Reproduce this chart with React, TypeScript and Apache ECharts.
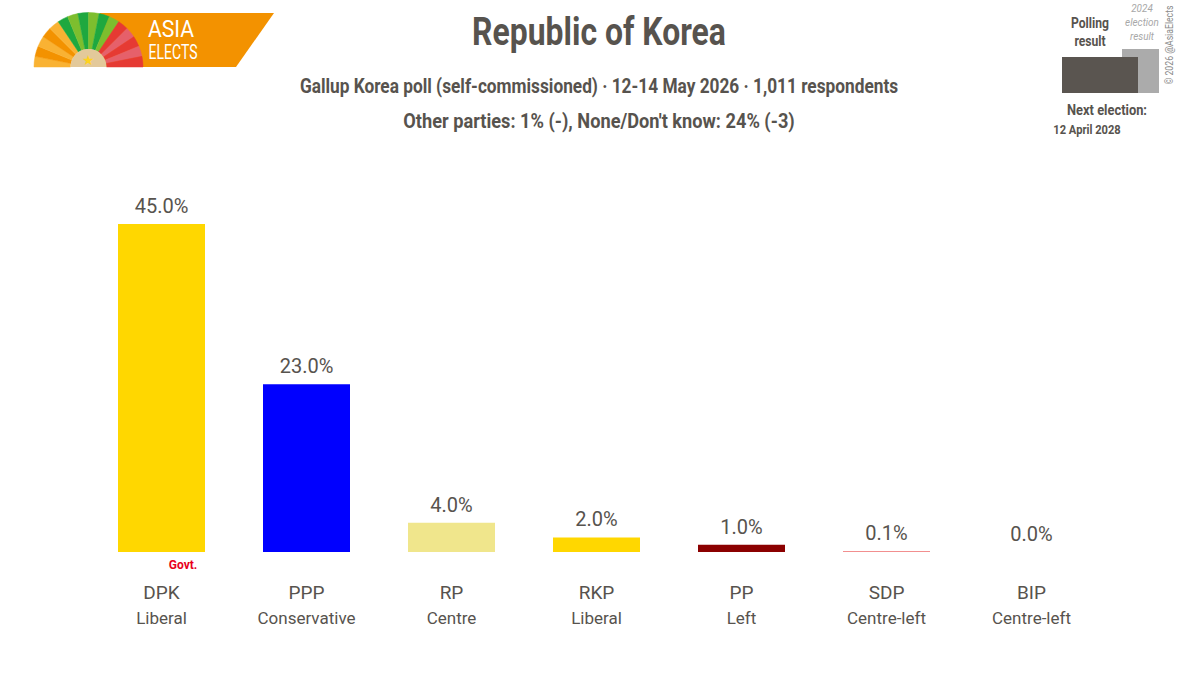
import * as echarts from "echarts";
import { useEffect, useRef } from "react";

const parties = ["DPK", "PPP", "RP", "RKP", "PP", "SDP", "BIP"];
const leanings = ["Liberal", "Conservative", "Centre", "Liberal", "Left", "Centre-left", "Centre-left"];
const values = [45.0, 23.0, 4.0, 2.0, 1.0, 0.1, 0.0];
const barColors = ["#FFD700", "#0000FF", "#F0E68C", "#FFD700", "#8B0000", "#EE6A6A", "#008080"];
const wedgeColors = [
  "#F9B233", "#F39200", "#F9B233", "#F39200", "#F9B233",
  "#1EA83F", "#7DBE2E", "#1EA83F", "#7DBE2E", "#1EA83F", "#7DBE2E",
  "#E63A33", "#E6606A", "#E63A33", "#E6606A", "#E63A33",
];

const FONT = "Roboto, sans-serif";
const INK = "#57534E";

// the reference font is a condensed one, so texts are squeezed sideways
function label(text: string, x: number, y: number, font: string, scaleX = 1, fill = INK) {
  return { type: "text", x, y, scaleX, style: { text, font, fill, align: "center", verticalAlign: "middle" } };
}

function logo() {
  const cx = 88.5;
  const cy = 67;
  const step = Math.PI / wedgeColors.length;
  const wedges = wedgeColors.map((color, i) => ({
    type: "sector",
    shape: { cx, cy, r: 54.5, r0: 18, startAngle: Math.PI + i * step, endAngle: Math.PI + (i + 1) * step },
    style: { fill: color, stroke: color, lineWidth: 0.5 },
  }));
  return [
    {
      type: "polygon",
      shape: { points: [[100, 13], [274, 13], [236, 67], [100, 67]] },
      style: { fill: "#F39200" },
    },
    ...wedges,
    {
      type: "sector",
      shape: { cx, cy, r: 18, r0: 0, startAngle: Math.PI, endAngle: 2 * Math.PI },
      style: { fill: "#E3C99A" },
    },
    label("★", 88.5, 60, "14px sans-serif", 1, "#FFD21F"),
    label("ASIA", 171, 29, `24px ${FONT}`, 0.88, "#fff"),
    label("ELECTS", 173, 52, `20px ${FONT}`, 0.7, "#fff"),
  ];
}

function header() {
  return [
    label("Republic of Korea", 599, 32, `bold 38px ${FONT}`, 0.84),
    label("Gallup Korea poll (self-commissioned) · 12-14 May 2026 · 1,011 respondents", 599, 87, `bold 20px ${FONT}`, 0.864),
    label("Other parties: 1% (-), None/Don't know: 24% (-3)", 599, 121, `bold 20px ${FONT}`, 0.91),
  ];
}

function legendBox() {
  return [
    { type: "rect", shape: { x: 1122, y: 49, width: 37, height: 44 }, style: { fill: "#ABABAB" } },
    { type: "rect", shape: { x: 1062, y: 57, width: 76, height: 36 }, style: { fill: "#5A5550" } },
    label("Polling", 1090, 23, `bold 15px ${FONT}`, 0.81),
    label("result", 1090, 41, `bold 15px ${FONT}`, 0.81),
    label("2024", 1142, 8, `italic 11px ${FONT}`, 0.9, "#A8A8A8"),
    label("election", 1142, 22, `italic 11px ${FONT}`, 0.9, "#A8A8A8"),
    label("result", 1142, 36, `italic 11px ${FONT}`, 0.9, "#A8A8A8"),
    label("Next election:", 1107, 110, `bold 14px ${FONT}`, 0.92),
    label("12 April 2028", 1087, 130, `bold 12px ${FONT}`, 0.93),
    {
      type: "text",
      x: 1169,
      y: 45,
      rotation: Math.PI / 2,
      scaleX: 0.87,
      style: { text: "© 2026 @AsiaElects", font: `10px ${FONT}`, fill: "#8A8A8A", align: "center", verticalAlign: "middle" },
    },
    label("Govt.", 183, 565, `bold 12px ${FONT}`, 1, "#E8001C"),
  ];
}

export default function App() {
  const ref = useRef<HTMLDivElement | null>(null);

  useEffect(() => {
    if (!ref.current) return;

    const chart = echarts.init(ref.current, undefined, { renderer: "svg" });

    chart.setOption({
      animation: false,
      backgroundColor: "#ffffff",
      grid: { left: 89, right: 96, top: 224, bottom: 139 },
      xAxis: {
        type: "category",
        data: parties,
        axisLine: { show: false },
        axisTick: { show: false },
        axisLabel: {
          interval: 0,
          margin: 28,
          formatter: (_: string, i: number) => `{a|${parties[i]}}\n{b|${leanings[i]}}`,
          rich: {
            a: { fontFamily: FONT, fontSize: 19, color: INK, lineHeight: 25, align: "center" },
            b: { fontFamily: FONT, fontSize: 17, color: INK, lineHeight: 25, align: "center" },
          },
        },
      },
      yAxis: { type: "value", min: 0, max: 45, show: false },
      series: [
        {
          type: "bar",
          barWidth: 87,
          data: values.map((v, i) => ({ value: v, itemStyle: { color: barColors[i] } })),
          label: {
            show: true,
            position: "top",
            distance: 8,
            fontFamily: FONT,
            fontSize: 20,
            color: INK,
            formatter: (p: { value: number }) => `${p.value.toFixed(1)}%`,
          },
        },
      ],
      graphic: [...logo(), ...header(), ...legendBox()],
    });

    return () => {
      chart.dispose();
    };
  }, []);

  return <div ref={ref} style={{ position: "absolute", left: 0, top: 0, width: 1200, height: 691 }} />;
}
